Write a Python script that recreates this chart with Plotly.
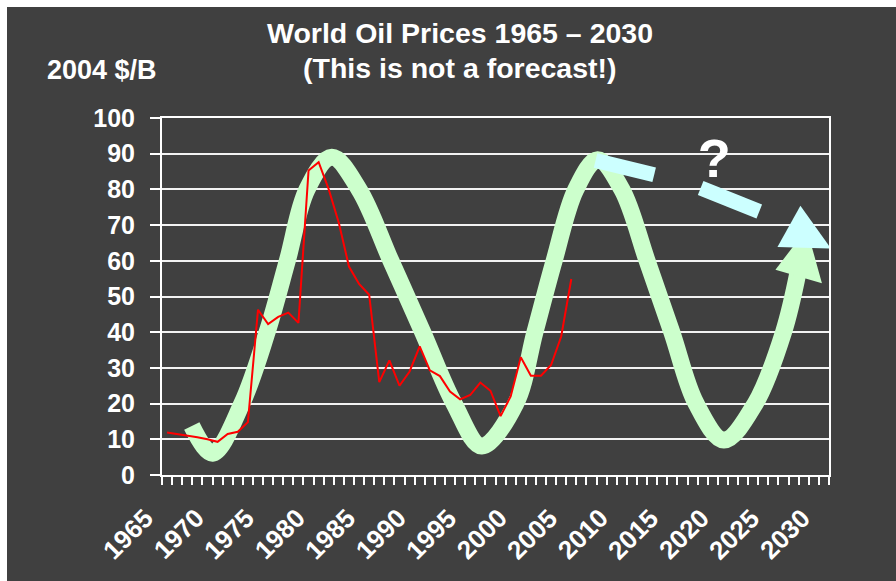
import plotly.graph_objects as go

# Historical price series (2004 dollars per barrel)
years = list(range(1965, 2006))
prices = [11.9, 11.5, 11.1, 10.6, 10.0, 9.3, 11.5, 12.1, 14.8, 46.3,
          42.3, 44.3, 45.5, 42.6, 85.3, 87.6, 80.0, 70.6, 58.4, 53.5,
          50.5, 26.0, 32.1, 25.0, 29.0, 36.0, 29.3, 27.7, 23.4, 21.2,
          22.4, 25.9, 23.6, 16.5, 22.0, 33.0, 27.8, 27.8, 30.8, 38.8, 54.9]

# Hand-drawn cycle sketch
cycle_years = [1967.45, 1969.5, 1972.4, 1974.9, 1976.9, 1978.85, 1981.3,
               1984.0, 1987.15, 1990.3, 1993.4, 1996.15, 1999.5, 2001.4,
               2003.3, 2005.45, 2007.6, 2010.0, 2012.5, 2014.95, 2017.35,
               2020.1, 2023.2, 2026.0, 2027.45]
cycle_values = [13.7, 6.1, 20, 40, 60, 80, 89.0,
                80, 60, 40, 20, 8.1, 20, 40,
                60, 80, 88.3, 80, 60, 40, 20,
                9.8, 20, 40, 57]
arrow_head_years = [2025.2, 2028.3, 2029.8, 2025.2]
arrow_head_values = [57.5, 69.0, 53.7, 57.5]

# Alternative paths (cyan)
alt_path1_years = [2007.4, 2013.2]
alt_path1_values = [88.1, 84.1]
alt_path2_years = [2017.8, 2023.6]
alt_path2_values = [80.4, 73.8]
alt_head_years = [2025.4, 2027.67, 2030.7, 2025.4]
alt_head_values = [63.9, 75.4, 63.4, 63.9]
question_year = [2019.15]
question_value = [87.2]

tick_years = list(range(1965, 2031, 5))
y_ticks = list(range(0, 101, 10))

BG = "#404040"
GREEN = "#ccffcc"
CYAN = "#ccffff"
FONT = "Liberation Sans, Arial, sans-serif"

W, H = 896, 581
L, R, T, B = 162, 829, 118, 475


def px_x(px):
    return (px - L) / (R - L)


def px_y(py):
    return (B - py) / (B - T)


fig = go.Figure()

fig.add_trace(go.Scatter(
    x=cycle_years, y=cycle_values, mode="lines",
    line=dict(color=GREEN, width=17, shape="spline", smoothing=1.0),
    hoverinfo="skip", showlegend=False))
fig.add_trace(go.Scatter(
    x=arrow_head_years, y=arrow_head_values, mode="lines",
    fill="toself", fillcolor=GREEN, line=dict(color=GREEN, width=0),
    hoverinfo="skip", showlegend=False))

fig.add_trace(go.Scatter(
    x=years, y=prices, mode="lines",
    line=dict(color="#ff0000", width=2),
    showlegend=False))

fig.add_trace(go.Scatter(
    x=question_year, y=question_value, mode="text", text=["<b>?</b>"],
    textposition="middle center",
    textfont=dict(family=FONT, size=54, color="white"),
    hoverinfo="skip", showlegend=False))

for xs, ys in [(alt_path1_years, alt_path1_values), (alt_path2_years, alt_path2_values)]:
    fig.add_trace(go.Scatter(
        x=xs, y=ys, mode="lines",
        line=dict(color=CYAN, width=15),
        hoverinfo="skip", showlegend=False))
fig.add_trace(go.Scatter(
    x=alt_head_years, y=alt_head_values, mode="lines",
    fill="toself", fillcolor=CYAN, line=dict(color=CYAN, width=0),
    hoverinfo="skip", showlegend=False))

fig.update_layout(
    width=W, height=H,
    margin=dict(l=L, r=W - R, t=T, b=H - B, pad=0),
    paper_bgcolor=BG, plot_bgcolor=BG,
    font=dict(family=FONT, color="white"),
    showlegend=False,
)

fig.update_xaxes(
    range=[1964.5, 2030.5],
    tickmode="array", tickvals=tick_years, ticktext=[""] * len(tick_years),
    ticks="",
    minor=dict(tickmode="linear", tick0=1964.5, dtick=1, ticks="outside",
               ticklen=8, tickwidth=1.5, tickcolor="white", showgrid=False),
    showgrid=False, zeroline=False,
    showline=True, linecolor="white", linewidth=2, mirror=True,
)
fig.update_yaxes(
    range=[0, 100], tickmode="array", tickvals=y_ticks,
    ticks="outside", ticklen=10, tickwidth=2, tickcolor="white",
    ticklabelstandoff=10,
    tickfont=dict(family=FONT, size=25, color="white", weight="bold"),
    showgrid=True, gridcolor="#f2f2f2", gridwidth=2, zeroline=False,
    showline=True, linecolor="white", linewidth=2, mirror=True,
)

# Rotated year labels under the category axis
for yr in tick_years:
    fig.add_annotation(
        x=yr, xref="x", y=px_y(500), yref="paper",
        text=f"<b>{yr}</b>", textangle=-45, showarrow=False,
        xanchor="right", yanchor="top", xshift=-5,
        font=dict(family=FONT, size=26, color="white"))

annotations = [
    dict(text="<b>World Oil Prices 1965 \u2013 2030</b>", x=px_x(460), y=px_y(33), size=28.5),
    dict(text="<b>(This is not a forecast!)</b>", x=px_x(460), y=px_y(68), size=28.5),
    dict(text="<b>2004 $/B</b>", x=px_x(102), y=px_y(70), size=27),
]
for a in annotations:
    fig.add_annotation(xref="paper", yref="paper", showarrow=False,
                       xanchor="center", yanchor="middle",
                       font=dict(family=FONT, color="white", size=a["size"]),
                       text=a["text"], x=a["x"], y=a["y"])

# White page edge along the top and left
fig.add_shape(type="rect", xref="paper", yref="paper", layer="above",
              x0=px_x(0), x1=px_x(W), y0=px_y(0), y1=px_y(7),
              fillcolor="white", line=dict(width=0))
fig.add_shape(type="rect", xref="paper", yref="paper", layer="above",
              x0=px_x(0), x1=px_x(7), y0=px_y(0), y1=px_y(H),
              fillcolor="white", line=dict(width=0))

fig.write_html("out.html")
